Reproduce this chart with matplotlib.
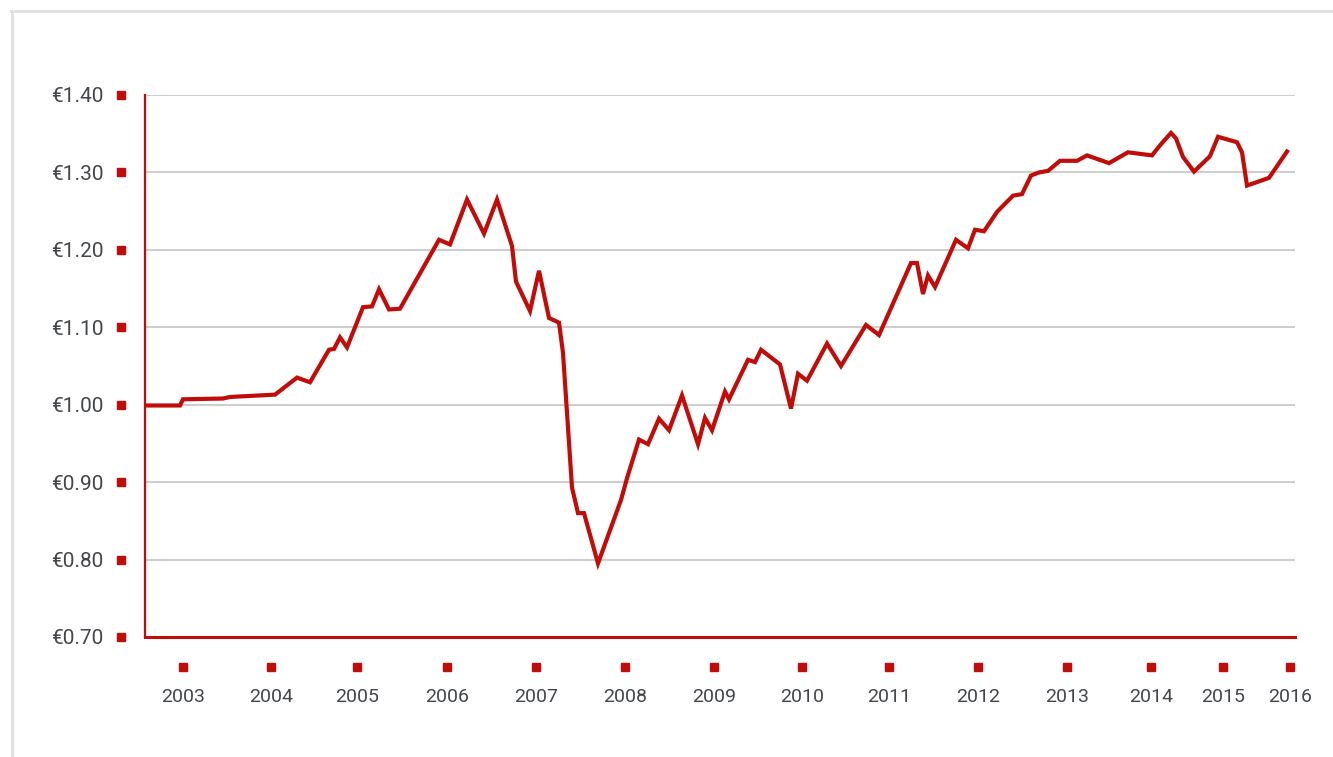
import matplotlib
matplotlib.use("Agg")
import matplotlib.pyplot as plt
import matplotlib.transforms as mtransforms
from matplotlib.lines import Line2D

plt.rcParams['font.family'] = ['Roboto', 'DejaVu Sans']

# time position (chart index units) and value in EUR
t = [0.2, 3.5, 3.8, 7.8, 8.5, 13.0, 15.2, 16.5, 18.4, 18.9, 19.5, 20.2, 21.8, 22.7, 23.4, 24.4, 25.5,
     29.4, 30.5, 32.2, 33.9, 35.2, 36.7, 37.1, 38.5, 39.4, 40.4, 41.4, 41.8, 42.7, 43.3, 43.9, 45.3,
     47.6, 48.2, 49.4, 50.3, 51.4, 52.4, 53.7, 55.3, 56.0, 56.7, 58.0, 58.4, 60.3, 61.0, 61.6, 63.5,
     64.6, 65.3, 66.2, 68.2, 69.6, 72.1, 73.4, 76.6, 77.2, 77.8, 78.3, 79.0, 81.1, 82.3, 83.0, 83.9,
     85.2, 86.8, 87.7, 88.6, 89.4, 90.3, 91.5, 93.2, 94.2, 96.4, 98.3, 100.7, 101.5, 102.6, 103.1,
     103.8, 104.9, 106.5, 107.3, 109.2, 109.7, 110.2, 112.4, 114.2]
value = [0.999, 0.999, 1.007, 1.008, 1.010, 1.013, 1.035, 1.029, 1.071, 1.072, 1.087, 1.074, 1.126,
         1.127, 1.149, 1.123, 1.124, 1.213, 1.207, 1.265, 1.221, 1.265, 1.205, 1.159, 1.121, 1.173,
         1.112, 1.106, 1.067, 0.893, 0.860, 0.860, 0.795, 0.877, 0.905, 0.955, 0.949, 0.982, 0.967,
         1.012, 0.949, 0.983, 0.967, 1.017, 1.007, 1.058, 1.055, 1.071, 1.052, 0.995, 1.040, 1.031,
         1.079, 1.050, 1.103, 1.090, 1.183, 1.183, 1.143, 1.167, 1.152, 1.213, 1.202, 1.226, 1.224,
         1.249, 1.270, 1.272, 1.296, 1.300, 1.302, 1.315, 1.315, 1.322, 1.312, 1.326, 1.322, 1.335,
         1.351, 1.344, 1.320, 1.301, 1.321, 1.346, 1.339, 1.326, 1.283, 1.293, 1.327]

years = ['2003', '2004', '2005', '2006', '2007', '2008', '2009', '2010', '2011', '2012', '2013',
         '2014', '2015', '2016']
year_pos = [3.8, 12.6, 21.2, 30.2, 39.1, 48.0, 56.9, 65.7, 74.4, 83.3, 92.2, 100.6, 107.8, 114.5]
y_ticks = [0.70, 0.80, 0.90, 1.00, 1.10, 1.20, 1.30, 1.40]

RED = '#c00d0a'
GRID = '#c0c0c0'
TXT = '#43464b'

W, H = 1333, 757
fig = plt.figure(figsize=(W / 100, H / 100), dpi=100)
ax = fig.add_axes([145 / W, 120 / H, (1295 - 145) / W, (637 - 95) / H])

# outer light frame (top and left edges)
fig.add_artist(Line2D([12 / W, 12 / W], [0, (H - 11) / H], color='#e2e2e2', lw=2.2,
                      transform=fig.transFigure))
fig.add_artist(Line2D([11 / W, 1], [(H - 11) / H, (H - 11) / H], color='#e2e2e2', lw=2.2,
                      transform=fig.transFigure))

ax.set_xlim(0, 115)
ax.set_ylim(0.70, 1.40)

for yv in y_ticks[1:]:
    ax.axhline(yv, color=GRID, lw=1.1, zorder=1)

ax.plot(t, value, color=RED, lw=3.0, solid_joinstyle='miter', zorder=3)

for s in ['top', 'right']:
    ax.spines[s].set_visible(False)
ax.spines['left'].set_color(RED)
ax.spines['left'].set_linewidth(1.6)
ax.spines['bottom'].set_color(RED)
ax.spines['bottom'].set_linewidth(2.2)
ax.spines['bottom'].set_zorder(4)

ax.set_yticks(y_ticks)
ax.set_yticklabels(['€%.2f' % v for v in y_ticks])
ax.set_xticks(year_pos)
ax.set_xticklabels(years)
ax.tick_params(axis='y', length=0, pad=30, labelsize=15, labelcolor=TXT)
ax.tick_params(axis='x', length=0, pad=37, labelsize=14, labelcolor=TXT)

# red square markers beside tick labels
ytr = mtransforms.offset_copy(ax.get_yaxis_transform(), fig=fig, x=-24 * 72 / 100, y=0,
                              units='points')
ax.plot([0] * len(y_ticks), y_ticks, 's', color=RED, ms=5.8, transform=ytr, clip_on=False)
xtr = mtransforms.offset_copy(ax.get_xaxis_transform(), fig=fig, x=0, y=-30 * 72 / 100,
                              units='points')
ax.plot(year_pos, [0] * len(year_pos), 's', color=RED, ms=5.8, transform=xtr, clip_on=False)

fig.savefig('out.png', dpi=100, facecolor='white')
